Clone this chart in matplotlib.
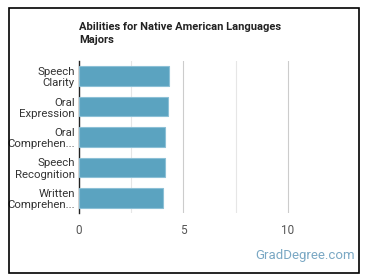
import matplotlib.pyplot as plt
from matplotlib.patches import Rectangle

categories = ["Speech\nClarity", "Oral\nExpression", "Oral\nComprehen...",
              "Speech\nRecognition", "Written\nComprehen..."]
values = [4.33, 4.24, 4.14, 4.10, 4.02]
ticks = [0, 5, 10]

plt.rcParams["font.family"] = ["Roboto", "DejaVu Sans"]

fig = plt.figure(figsize=(3.7, 2.78), dpi=100)
W, H = 370, 278
ax = fig.add_axes([79 / W, 1 - 213 / H, (340 - 79) / W, (213 - 61) / H])

y = list(range(len(categories)))
ax.barh(y, values, height=0.65, color="#5ba3c0", edgecolor="#8cc0d6", linewidth=0.8, zorder=3)
ax.set_ylim(len(categories) - 0.5, -0.5)
ax.set_xlim(0, 12.5)
ax.set_yticks(y)
ax.set_yticklabels(categories, fontsize=8.2, color="#333333", linespacing=1.15)
ax.set_xticks(ticks)
ax.set_xticklabels([str(t) for t in ticks], fontsize=8.5, color="#555555")
ax.set_xticks([2.5, 7.5], minor=True)
ax.tick_params(axis="both", which="both", length=0, pad=3)
ax.tick_params(axis="x", pad=8)
ax.grid(axis="x", which="major", color="#cccccc", linewidth=0.8, zorder=0)
ax.grid(axis="x", which="minor", color="#e6e6e6", linewidth=0.8, zorder=0)
for s in ["top", "right", "bottom"]:
    ax.spines[s].set_visible(False)
ax.spines["left"].set_color("#222222")
ax.spines["left"].set_linewidth(1.0)

fig.text(79 / W, 1 - 22 / H, "Abilities for Native American Languages\nMajors",
         fontsize=8, fontweight="bold", color="#222222", va="top", ha="left", linespacing=1.35)
fig.text(355 / W, 1 - 255 / H, "GradDegree.com", fontsize=9.5, color="#7aa8c4",
         ha="right", va="center")

fig.patches.append(Rectangle((9 / W, 1 - 273 / H), (359 - 9) / W, (273 - 8) / H,
                             transform=fig.transFigure, fill=False, edgecolor="black",
                             linewidth=1.2))

fig.savefig("out.png", dpi=100)
